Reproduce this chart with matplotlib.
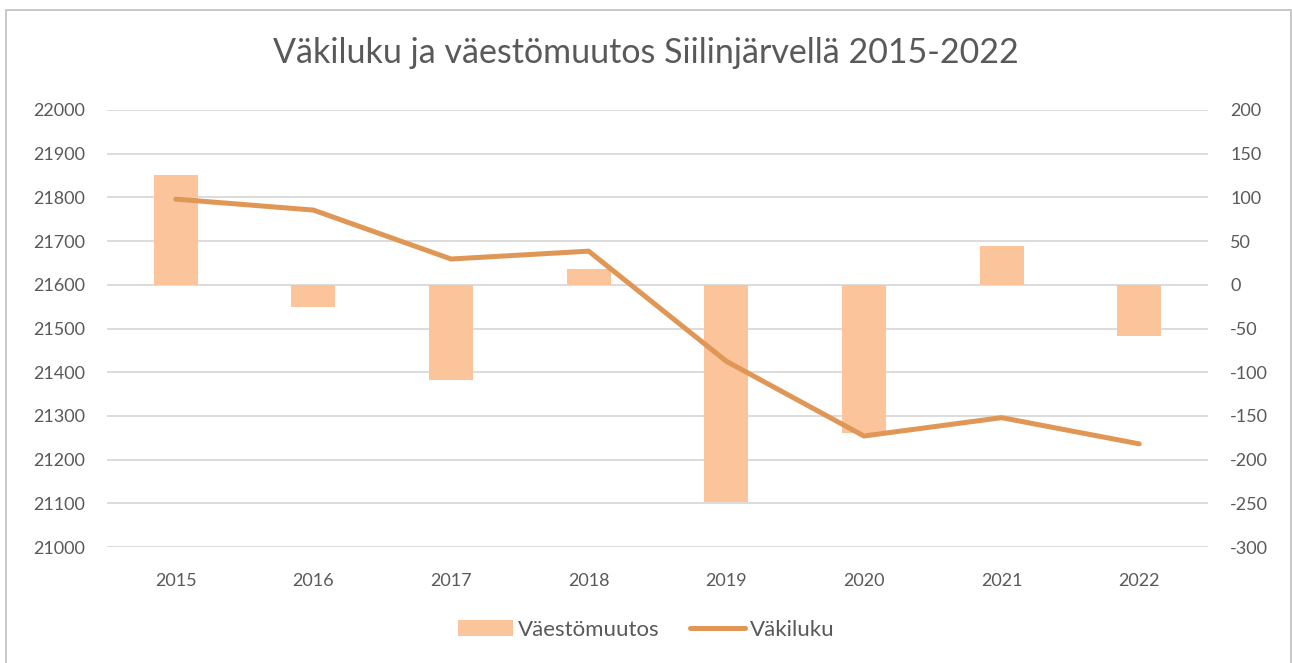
import matplotlib
matplotlib.use("Agg")
import matplotlib.pyplot as plt
from matplotlib.patches import Rectangle

years = ["2015", "2016", "2017", "2018", "2019", "2020", "2021", "2022"]
vaestomuutos = [126, -25, -109, 18, -249, -170, 44, -59]
vakiluku = [21796, 21771, 21659, 21677, 21425, 21254, 21296, 21236]
left_ticks = list(range(21000, 22001, 100))
right_ticks = list(range(-300, 201, 50))

TXT = "#595959"
BAR = "#FBC49A"
LINE = "#E09655"
GRID = "#D9D9D9"
FONT = "Lato"

plt.rcParams["font.family"] = [FONT, "DejaVu Sans"]
plt.rcParams["axes.unicode_minus"] = False

fig = plt.figure(figsize=(12.92, 6.63), dpi=100)
fig.patches.append(Rectangle((6 / 1292, -0.01), (1291 - 6) / 1292, (663 - 10) / 663 + 0.01,
                             transform=fig.transFigure, fill=False, edgecolor="#BFBFBF",
                             linewidth=1.2))

ax = fig.add_axes([107 / 1292, (663 - 547) / 663, 1101 / 1292, 437 / 663])
ax2 = ax.twinx()

x = list(range(len(years)))

# bars on secondary (right) axis
ax2.bar(x, vaestomuutos, width=0.32, color=BAR, zorder=2, label="Väestömuutos")
ax2.set_ylim(-300, 200)
ax2.set_yticks(right_ticks)

# line on primary (left) axis, drawn on top
ax.set_zorder(ax2.get_zorder() + 1)
ax.patch.set_visible(False)
ax.plot(x, vakiluku, color=LINE, linewidth=3.6, solid_capstyle="round",
        solid_joinstyle="round", zorder=3, label="Väkiluku")
ax.set_ylim(21000, 22000)
ax.set_yticks(left_ticks)
ax.set_xlim(-0.5, len(years) - 0.5)
ax.set_xticks(x)
ax.set_xticklabels(years)

# gridlines
ax2.set_axisbelow(True)
for v in left_ticks:
    ax2.axhline(-300 + (v - 21000) * 0.5, color=GRID, linewidth=1.3, zorder=0)

for a in (ax, ax2):
    for s in a.spines.values():
        s.set_visible(False)
    a.tick_params(length=0, colors=TXT, labelsize=13)
ax.tick_params(axis="y", pad=16)
ax2.tick_params(axis="y", pad=16)
ax.tick_params(axis="x", pad=19)
for lab in ax2.get_yticklabels():
    lab.set_horizontalalignment("left")

fig.text(0.5, (663 - 53) / 663, "Väkiluku ja väestömuutos Siilinjärvellä 2015-2022",
         ha="center", va="center", fontsize=24.5, color=TXT)

h1, l1 = ax2.get_legend_handles_labels()
h2, l2 = ax.get_legend_handles_labels()
leg = fig.legend(h1 + h2, l1 + l2, loc="center", bbox_to_anchor=(0.5, (663 - 630) / 663),
                 ncol=2, frameon=False, fontsize=16, handlelength=2.5, handletextpad=0.2,
                 columnspacing=1.35)
for t in leg.get_texts():
    t.set_color(TXT)

fig.savefig("out.png", dpi=100)
